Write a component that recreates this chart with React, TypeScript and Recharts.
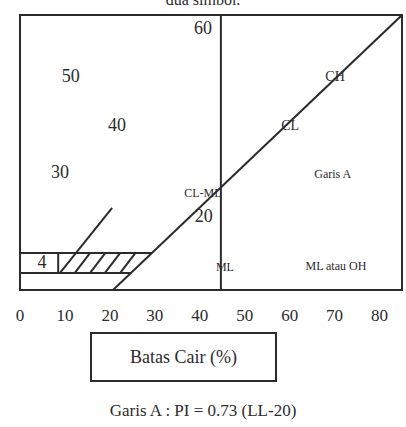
import {
  ComposedChart,
  Line,
  Scatter,
  XAxis,
  YAxis,
  ReferenceLine,
  ReferenceArea,
} from "recharts";

// liquid limit ticks printed under the chart
const LL_TICKS = [0, 10, 20, 30, 40, 50, 60, 70, 80];
const LL_MAX = 85;
const PI_MAX = 63;

// A-line, PI = 0.73 (LL - 20), as drawn in the scan
const A_LINE = [
  { ll: 20.7, pi: 0 },
  { ll: 85, pi: 63 },
];
// short boundary rising out of the CL-ML band
const SHORT_LINE = [
  { ll: 8.9, pi: 3.9 },
  { ll: 20.5, pi: 18.8 },
];
const LL_50 = 44.7;
const BAND_LOW = 3.9;
const BAND_HIGH = 8.5;
const BAND_LOW_END = 24.7;
const BAND_HIGH_END = 29.4;
const BAND_DIVIDER = 8.5;
const HATCH_FROM = [12.2, 15.6, 18.9, 22.3];
const HATCH_LEAN = 3.4;

// numbers scattered inside the plot
const PI_NUMBERS = [
  { ll: 40.7, pi: 60.0, text: "60" },
  { ll: 11.3, pi: 49.0, text: "50" },
  { ll: 21.6, pi: 37.8, text: "40" },
  { ll: 8.9, pi: 27.0, text: "30" },
  { ll: 40.9, pi: 17.0, text: "20" },
  { ll: 4.9, pi: 6.4, text: "4" },
];
const ZONES_MAIN = [
  { ll: 70.1, pi: 48.8, text: "CH" },
  { ll: 60.1, pi: 37.8, text: "CL" },
];
const ZONES_SMALL = [
  { ll: 69.6, pi: 26.6, text: "Garis A" },
  { ll: 40.7, pi: 22.2, text: "CL-ML" },
  { ll: 45.6, pi: 5.3, text: "ML" },
  { ll: 70.3, pi: 5.5, text: "ML atau OH" },
];

const FONT = "Liberation Serif, Times New Roman, serif";
const INK = "#2b2b2b";

function textShape(size: number) {
  return (p: any) => (
    <text
      x={p.cx}
      y={p.cy}
      textAnchor="middle"
      dominantBaseline="central"
      fontFamily={FONT}
      fontSize={size}
      fill={INK}
    >
      {p.payload.text}
    </text>
  );
}

export default function App() {
  return (
    <div
      style={{
        position: "absolute",
        left: 0,
        top: 0,
        width: 406,
        height: 427,
        background: "#fff",
        overflow: "hidden",
        fontFamily: FONT,
        color: INK,
      }}
    >
      <div
        style={{
          position: "absolute",
          top: -9,
          left: 0,
          width: 406,
          textAlign: "center",
          fontSize: 16,
        }}
      >
        dua simbol.
      </div>
      <ComposedChart
        width={406}
        height={427}
        margin={{ top: 15, right: 4, left: 20, bottom: 107 }}
      >
        <XAxis
          type="number"
          dataKey="ll"
          domain={[0, LL_MAX]}
          ticks={LL_TICKS}
          allowDataOverflow
          axisLine={false}
          tickLine={false}
          tickSize={0}
          tickMargin={19}
          height={30}
          tick={{ fontFamily: FONT, fontSize: 17, fill: INK }}
        />
        <YAxis type="number" dataKey="pi" domain={[0, PI_MAX]} hide allowDataOverflow />
        <ReferenceArea
          x1={0}
          x2={LL_MAX}
          y1={0}
          y2={PI_MAX}
          fill="none"
          stroke={INK}
          strokeWidth={2}
        />
        <ReferenceLine
          segment={[{ x: LL_50, y: 0 }, { x: LL_50, y: PI_MAX }]}
          stroke={INK}
          strokeWidth={2}
        />
        <ReferenceLine
          segment={[{ x: 0, y: BAND_LOW }, { x: BAND_LOW_END, y: BAND_LOW }]}
          stroke={INK}
          strokeWidth={2}
        />
        <ReferenceLine
          segment={[{ x: 0, y: BAND_HIGH }, { x: BAND_HIGH_END, y: BAND_HIGH }]}
          stroke={INK}
          strokeWidth={2}
        />
        <ReferenceLine
          segment={[{ x: BAND_DIVIDER, y: BAND_LOW }, { x: BAND_DIVIDER, y: BAND_HIGH }]}
          stroke={INK}
          strokeWidth={2}
        />
        {HATCH_FROM.map((x) => (
          <ReferenceLine
            key={x}
            segment={[{ x, y: BAND_LOW }, { x: x + HATCH_LEAN, y: BAND_HIGH }]}
            stroke={INK}
            strokeWidth={2}
          />
        ))}
        <Line
          data={A_LINE}
          dataKey="pi"
          stroke={INK}
          strokeWidth={2}
          dot={false}
          isAnimationActive={false}
        />
        <Line
          data={SHORT_LINE}
          dataKey="pi"
          stroke={INK}
          strokeWidth={2}
          dot={false}
          isAnimationActive={false}
        />
        <Scatter data={PI_NUMBERS} dataKey="pi" shape={textShape(18)} isAnimationActive={false} />
        <Scatter data={ZONES_MAIN} dataKey="pi" shape={textShape(14)} isAnimationActive={false} />
        <Scatter data={ZONES_SMALL} dataKey="pi" shape={textShape(12)} isAnimationActive={false} />
      </ComposedChart>
      <div
        style={{
          position: "absolute",
          left: 90,
          top: 332,
          width: 183,
          height: 46,
          border: `2px solid ${INK}`,
          display: "flex",
          alignItems: "center",
          justifyContent: "center",
          fontSize: 18,
        }}
      >
        Batas Cair (%)
      </div>
      <div
        style={{
          position: "absolute",
          left: 0,
          top: 401,
          width: 406,
          textAlign: "center",
          fontSize: 17,
        }}
      >
        Garis A : PI = 0.73 (LL-20)
      </div>
    </div>
  );
}
